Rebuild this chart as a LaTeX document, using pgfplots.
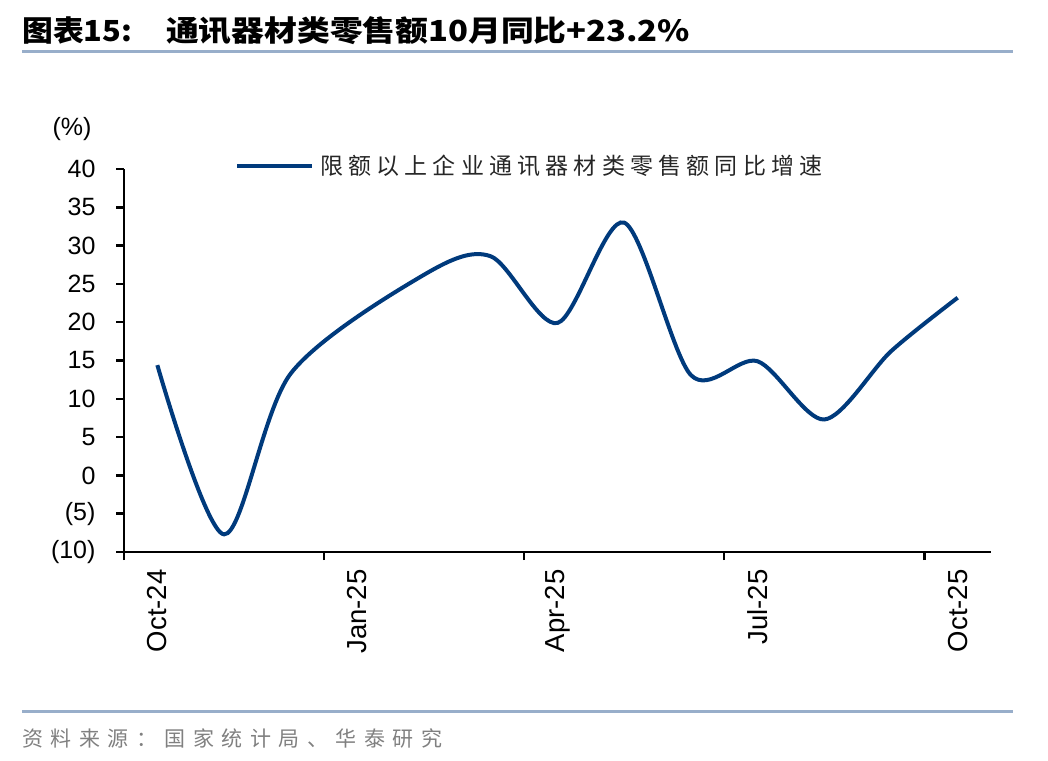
\documentclass[border=0pt]{standalone}
\usepackage{pgfplots}
\pgfplotsset{compat=1.18}
\usepackage{fontspec}
\setmainfont{Liberation Sans}
\newfontfamily\cjk{Noto Sans CJK SC}
\definecolor{lineblue}{RGB}{0,58,124}
\definecolor{rulec}{RGB}{152,174,202}
\definecolor{srcgray}{RGB}{128,128,128}
\makeatletter
\newlength\spw
\def\spaced#1#2{\setlength\spw{#1}\sp@ced#2\relax}
\def\sp@ced#1{\ifx\relax#1\else\makebox[\spw][l]{#1}\expandafter\sp@ced\fi}
\makeatother
\begin{document}
\begin{tikzpicture}[x=1pt,y=1pt]
\useasboundingbox (0,0) rectangle (1048,760);
% title
\node[anchor=west, inner sep=0pt] at (22,729) {\resizebox{110pt}{\height}{\cjk\bfseries\fontsize{29}{31}\selectfont 图表15:}};
\node[anchor=west, inner sep=0pt] at (166,729) {\resizebox{524pt}{\height}{\cjk\bfseries\fontsize{29}{31}\selectfont 通讯器材类零售额10月同比+23.2\%}};
\draw[rulec, line width=3pt] (22,708) -- (1013,708);
\draw[rulec, line width=3pt] (22,49) -- (1013,49);
\node[anchor=west, inner sep=0pt, text=srcgray] at (22,22) {\cjk\fontsize{21}{23}\selectfont\spaced{28.5pt}{资料来源：国家统计局、华泰研究}};
\node at (72,631) {\fontsize{25}{28}\selectfont(\%)};
\begin{axis}[
  at={(124pt,208pt)}, anchor=south west,
  scale only axis, width=867pt, height=383pt,
  xmin=-0.5, xmax=12.5, ymin=-10, ymax=40,
  axis x line*=bottom, axis y line*=left,
  axis line style={line width=2.5pt, black, -},
  tick align=outside, major tick length=8pt,
  tick style={line width=2.5pt, black},
  xtick={-0.5,2.5,5.5,8.5,11.5}, xticklabels={},
  extra x ticks={0,3,6,9,12},
  extra x tick labels={Oct-24,Jan-25,Apr-25,Jul-25,Oct-25},
  extra x tick style={major tick length=0pt, xticklabel style={rotate=90, anchor=east, xshift=-14pt, font=\fontsize{27.5}{30}\selectfont}},
  ytick={-10,-5,0,5,10,15,20,25,30,35,40},
  yticklabels={(10),(5),0,5,10,15,20,25,30,35,40},
  yticklabel style={xshift=-17pt, font=\fontsize{25}{28}\selectfont},
  clip=false,
  legend style={at={(0.128,1.008)}, anchor=west, draw=none, fill=none, inner sep=0pt,
    font=\cjk\fontsize{23}{25}\selectfont, text=black!85,
    /tikz/every odd column/.append style={column sep=4pt}},
  legend cell align=left,
  legend image code/.code={\draw[#1] (0pt,0pt) -- (75pt,0pt);},
]
\addplot[lineblue, line width=4pt, smooth, tension=0.5] coordinates {
(0,14.4) (1,-7.7) (2,13.3) (4,26.2) (5,28.6) (6,19.9) (7,33.0) (8,13.1) (9,14.9) (10,7.3) (11,16.2) (12,23.2)
};
\addlegendentry{\spaced{28.2pt}{限额以上企业通讯器材类零售额同比增速}}
\end{axis}
\end{tikzpicture}
\end{document}
